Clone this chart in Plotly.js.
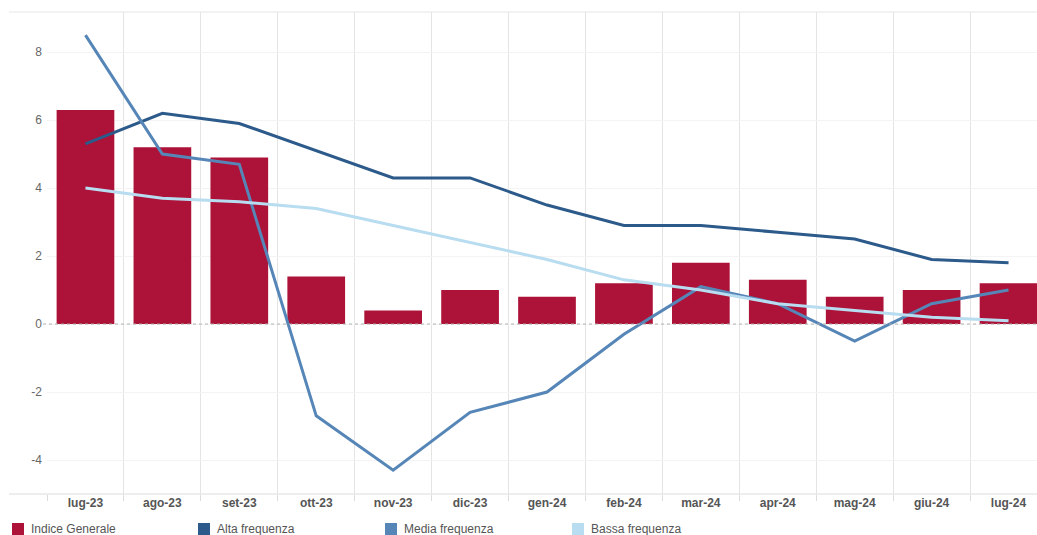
<!DOCTYPE html>
<html>
<head>
<meta charset="utf-8">
<script src="https://cdn.plot.ly/plotly-3.0.1.min.js"></script>
<style>
html,body{margin:0;padding:0;background:#fff;overflow:hidden;}
#chart{width:1047px;height:535px;}
</style>
</head>
<body>
<div id="chart"></div>
<script>
const categories = ["lug-23","ago-23","set-23","ott-23","nov-23","dic-23","gen-24","feb-24","mar-24","apr-24","mag-24","giu-24","lug-24"];
const indiceGenerale = [6.3, 5.2, 4.9, 1.4, 0.4, 1.0, 0.8, 1.2, 1.8, 1.3, 0.8, 1.0, 1.2];
const altaFrequenza = [5.3, 6.2, 5.9, 5.1, 4.3, 4.3, 3.5, 2.9, 2.9, 2.7, 2.5, 1.9, 1.8];
const mediaFrequenza = [8.5, 5.0, 4.7, -2.7, -4.3, -2.6, -2.0, -0.3, 1.1, 0.6, -0.5, 0.6, 1.0];
const bassaFrequenza = [4.0, 3.7, 3.6, 3.4, 2.9, 2.4, 1.9, 1.3, 1.0, 0.6, 0.4, 0.2, 0.1];
const yTickVals = [-4, -2, 0, 2, 4, 6, 8];
const yTickText = ["-4", "-2", "0", "2", "4", "6", "8"];
const seriesNames = ["Indice Generale", "Alta frequenza", "Media frequenza", "Bassa frequenza"];
const colors = ["#ad1238", "#2c5a8a", "#5686b7", "#b8dcf0"];

const W = 1047, H = 535, ML = 47, MR = 0, MT = 12, MB = 41;
const PW = W - ML - MR, PH = H - MT - MB;
const px2x = p => (p - ML) / PW;
const px2y = p => (H - MB - p) / PH;

const traces = [
  {type:"bar", x:categories, y:indiceGenerale, name:seriesNames[0], marker:{color:colors[0]}, width:0.75},
  {type:"scatter", mode:"lines", x:categories, y:altaFrequenza, name:seriesNames[1], line:{color:colors[1], width:3}},
  {type:"scatter", mode:"lines", x:categories, y:mediaFrequenza, name:seriesNames[2], line:{color:colors[2], width:3}},
  {type:"scatter", mode:"lines", x:categories, y:bassaFrequenza, name:seriesNames[3], line:{color:colors[3], width:3}}
];

// custom legend: coloured squares + real text
const legendLeft = [12, 198, 385, 572];
const shapes = [
  {type:"line", xref:"paper", yref:"y", x0:px2x(43), x1:1, y0:0, y1:0, line:{color:"#b0b0b0", width:1, dash:"dot"}, layer:"above"},
  {type:"line", xref:"paper", yref:"paper", x0:px2x(9), x1:1, y0:0, y1:0, line:{color:"#dcdcdc", width:1}},
  {type:"line", xref:"paper", yref:"paper", x0:px2x(9), x1:1, y0:1, y1:1, line:{color:"#e6e6e6", width:1}}
];
const annotations = [];
seriesNames.forEach((n, i) => {
  const l = legendLeft[i];
  shapes.push({type:"rect", xref:"paper", yref:"paper", x0:px2x(l), x1:px2x(l + 12), y0:px2y(523), y1:px2y(536),
    fillcolor:colors[i], line:{width:0}});
  annotations.push({xref:"paper", yref:"paper", x:px2x(l + 17), y:px2y(529), xanchor:"left", yanchor:"middle",
    text:n, showarrow:false, font:{family:"Liberation Sans, Arial, sans-serif", size:12, color:"#555"}});
});

const layout = {
  width:W, height:H,
  margin:{l:ML, r:MR, t:MT, b:MB, autoexpand:false},
  paper_bgcolor:"#fff", plot_bgcolor:"#fff",
  showlegend:false,
  font:{family:"Liberation Sans, Arial, sans-serif", size:12, color:"#555"},
  xaxis:{
    type:"category", tickson:"boundaries", ticks:"outside", ticklen:6, tickcolor:"#dcdcdc",
    showgrid:true, gridcolor:"#e4e4e4", gridwidth:1,
    showline:false, zeroline:false,
    tickfont:{family:"Liberation Sans, Arial, sans-serif", size:12, color:"#555", weight:"bold"},
    range:[-0.5, 12.5]
  },
  yaxis:{
    range:[-5, 9.18], tickvals:yTickVals, ticktext:yTickText,
    showgrid:true, gridcolor:"#f4f4f4", zeroline:false, showline:false,
    ticks:"", ticklabelstandoff:4,
    tickfont:{family:"Liberation Sans, Arial, sans-serif", size:12, color:"#666"}
  },
  shapes:shapes,
  annotations:annotations
};

Plotly.newPlot("chart", traces, layout, {displayModeBar:false, staticPlot:true});
</script>
</body>
</html>
